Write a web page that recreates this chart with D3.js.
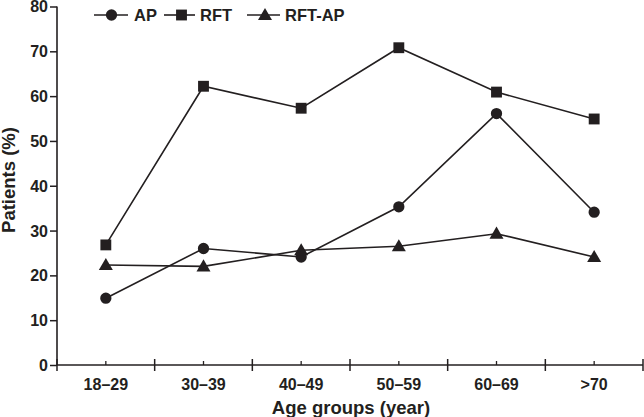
<!DOCTYPE html>
<html>
<head>
<meta charset="utf-8">
<script src="https://cdn.jsdelivr.net/npm/d3@7"></script>
<style>
  html, body { margin: 0; padding: 0; background: #fff; }
  svg { display: block; }
  text { font-family: "Liberation Sans", Arial, Helvetica, sans-serif; font-weight: bold; fill: #231f20; }
</style>
</head>
<body>
<svg id="chart" width="644" height="417"></svg>
<script>
const categories = ["18–29", "30–39", "40–49", "50–59", "60–69", ">70"];
const apValues = [14.9, 26.0, 24.1, 35.3, 56.1, 34.1];
const rftValues = [26.8, 62.2, 57.3, 70.8, 60.9, 54.9];
const rftApValues = [22.3, 22.0, 25.6, 26.5, 29.3, 24.1];
const yTicks = [0, 10, 20, 30, 40, 50, 60, 70, 80];
const seriesNames = ["AP", "RFT", "RFT-AP"];

const ink = "#231f20";
const svg = d3.select("#chart");

const x = d3.scaleBand().domain(categories).range([57, 643]).padding(0);
const y = d3.scaleLinear().domain([0, 80]).range([365, 6.5]);

// Y axis
const yAxis = d3.axisLeft(y).tickValues(yTicks).tickSize(7).tickPadding(2);
const gy = svg.append("g").attr("transform", "translate(57,0)").call(yAxis);
gy.select(".domain").attr("stroke", ink).attr("stroke-width", 1.6).attr("d", `M0,${y(80)}V${y(0)}`);
gy.selectAll(".tick line").attr("stroke", ink).attr("stroke-width", 1.5);
gy.selectAll(".tick text").style("font-size", "16px").attr("fill", ink).attr("dy", "0.34em");

// X axis (labels at centers, small inner ticks)
const xAxis = d3.axisBottom(x).tickSize(-4).tickPadding(14);
const gx = svg.append("g").attr("transform", `translate(0,${y(0)})`).call(xAxis);
gx.select(".domain").attr("stroke", ink).attr("stroke-width", 1.6).attr("d", "M57,0H643");
gx.selectAll(".tick line").attr("stroke", ink).attr("stroke-width", 1.3);
gx.selectAll(".tick text").style("font-size", "16px").attr("fill", ink).attr("dy", "0.71em");

// band boundary ticks crossing the axis
const bounds = categories.map(c => x(c)).concat([x(categories[categories.length - 1]) + x.bandwidth()]);
svg.append("g").selectAll("line").data(bounds).join("line")
  .attr("x1", d => d).attr("x2", d => d)
  .attr("y1", y(0) - 6).attr("y2", y(0) + 6)
  .attr("stroke", ink).attr("stroke-width", 1.5);

// Axis titles
svg.append("text").attr("x", 351).attr("y", 414).attr("text-anchor", "middle")
  .style("font-size", "18.5px").text("Age groups (year)");
svg.append("text").attr("transform", "translate(15,180) rotate(-90)").attr("text-anchor", "middle")
  .style("font-size", "18.5px").text("Patients (%)");

// Markers
const sym = {
  circle: d3.symbol().type(d3.symbolCircle).size(100),
  square: d3.symbol().type(d3.symbolSquare).size(118),
  triangle: d3.symbol().type(d3.symbolTriangle).size(85)
};

const series = [
  { name: seriesNames[0], values: apValues, marker: "circle" },
  { name: seriesNames[1], values: rftValues, marker: "square" },
  { name: seriesNames[2], values: rftApValues, marker: "triangle" }
];

const cx = c => x(c) + x.bandwidth() / 2;
const line = d3.line().x((d, i) => cx(categories[i])).y(d => y(d));

series.forEach(s => {
  svg.append("path").datum(s.values).attr("d", line)
    .attr("fill", "none").attr("stroke", ink).attr("stroke-width", 1.6);
  svg.append("g").selectAll("path").data(s.values).join("path")
    .attr("d", sym[s.marker])
    .attr("transform", (d, i) => `translate(${cx(categories[i])},${y(d) + (s.marker === "triangle" ? 1 : 0)})`)
    .attr("fill", ink);
});

// Legend
const legendItems = [
  { x1: 94, x2: 128, mx: 111.5, tx: 134, marker: "circle", name: seriesNames[0] },
  { x1: 164, x2: 195, mx: 181.5, tx: 200, marker: "square", name: seriesNames[1] },
  { x1: 247, x2: 280, mx: 265, tx: 285, marker: "triangle", name: seriesNames[2] }
];
const ly = 15;
const lg = svg.append("g");
legendItems.forEach(it => {
  lg.append("line").attr("x1", it.x1).attr("x2", it.x2).attr("y1", ly).attr("y2", ly)
    .attr("stroke", ink).attr("stroke-width", 1.6);
  lg.append("path").attr("d", sym[it.marker])
    .attr("transform", `translate(${it.mx},${ly + (it.marker === "triangle" ? 1 : 0)})`).attr("fill", ink);
  lg.append("text").attr("x", it.tx).attr("y", ly + 6).style("font-size", "16.5px").text(it.name);
});
</script>
</body>
</html>
